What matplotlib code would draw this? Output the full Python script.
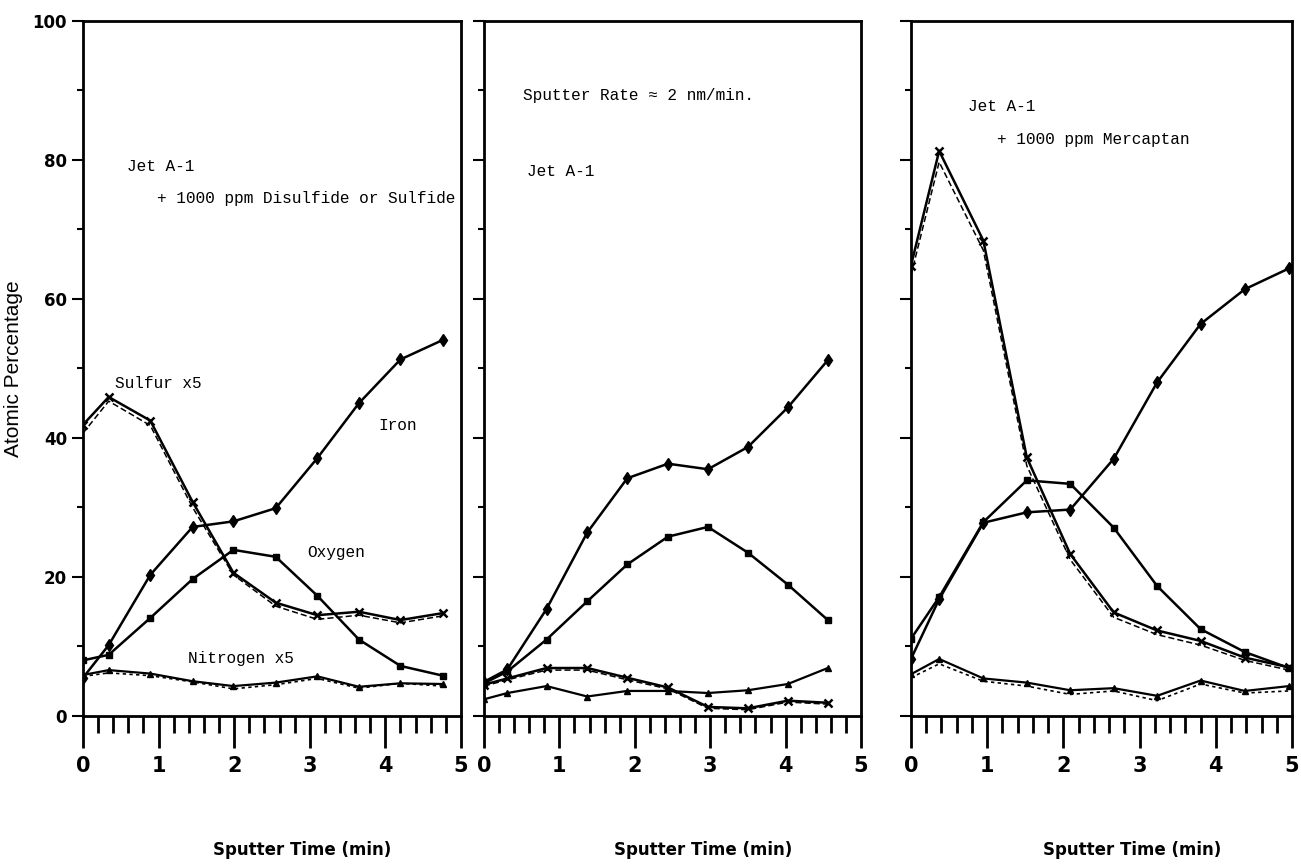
import matplotlib
matplotlib.use("Agg")
import matplotlib.pyplot as plt
import numpy as np
from matplotlib.ticker import MultipleLocator

# sputter time for each panel (min)
t1 = [0, 0.34, 0.89, 1.45, 1.99, 2.55, 3.10, 3.65, 4.20, 4.76]
t2 = [0, 0.31, 0.83, 1.37, 1.90, 2.44, 2.97, 3.50, 4.03, 4.56]
t3 = [0, 0.37, 0.95, 1.52, 2.09, 2.66, 3.23, 3.80, 4.38, 4.96]

# panel 1: Jet A-1 + disulfide or sulfide
iron1 = [5.5, 10.2, 20.3, 27.2, 28.0, 29.9, 37.1, 45.0, 51.3, 54.1]
oxy1 = [8.0, 8.8, 14.1, 19.7, 23.9, 22.9, 17.3, 11.0, 7.2, 5.8]
sulf1 = [41.9, 45.9, 42.5, 30.8, 20.6, 16.3, 14.5, 15.0, 13.8, 14.8]
sulf1b = [40.7, 45.3, 41.8, 30.0, 20.3, 15.8, 13.9, 14.5, 13.4, 14.4]
nit1 = [5.9, 6.6, 6.1, 5.0, 4.3, 4.8, 5.7, 4.2, 4.7, 4.6]
nit1b = [5.7, 6.2, 5.8, 4.9, 3.9, 4.5, 5.4, 4.0, 4.7, 4.3]

# panel 2: Jet A-1
iron2 = [4.9, 6.7, 15.4, 26.4, 34.2, 36.3, 35.5, 38.7, 44.4, 51.2]
oxy2 = [4.7, 6.4, 11.0, 16.5, 21.8, 25.8, 27.2, 23.5, 18.9, 13.8]
sulf2 = [4.5, 5.4, 6.9, 6.9, 5.5, 4.1, 1.3, 1.1, 2.2, 1.9]
sulf2b = [4.3, 5.2, 6.6, 6.6, 5.2, 3.9, 1.1, 0.9, 2.0, 1.7]
nit2 = [2.4, 3.3, 4.3, 2.8, 3.6, 3.6, 3.3, 3.7, 4.6, 6.9]

# panel 3: Jet A-1 + mercaptan
iron3 = [8.2, 16.8, 27.8, 29.3, 29.7, 37.0, 48.0, 56.4, 61.4, 64.4]
oxy3 = [11.1, 17.1, 27.9, 33.9, 33.4, 27.1, 18.7, 12.5, 9.2, 6.9]
sulf3 = [64.8, 81.3, 68.4, 37.2, 23.3, 14.9, 12.3, 10.8, 8.4, 7.0]
sulf3b = [63.4, 79.7, 67.0, 36.0, 22.5, 14.2, 11.7, 10.2, 8.0, 6.6]
nit3 = [6.0, 8.2, 5.4, 4.8, 3.7, 4.0, 2.9, 5.1, 3.6, 4.3]
nit3b = [5.5, 7.5, 5.0, 4.3, 3.1, 3.6, 2.2, 4.6, 3.3, 3.6]

tick_font = ['Liberation Sans Narrow', 'DejaVu Sans']
mono = ['Liberation Mono', 'DejaVu Sans Mono']

fig = plt.figure(figsize=(13.01, 8.67), dpi=100)
boxes = [[0.0638, 0.1742, 0.2905, 0.8016],
         [0.3720, 0.1742, 0.2898, 0.8016],
         [0.7002, 0.1742, 0.2929, 0.8016]]
axes = [fig.add_axes(b) for b in boxes]

panels = [
    (t1, iron1, oxy1, sulf1, sulf1b, nit1, nit1b),
    (t2, iron2, oxy2, sulf2, sulf2b, nit2, None),
    (t3, iron3, oxy3, sulf3, sulf3b, nit3, nit3b),
]

for i, (ax, p) in enumerate(zip(axes, panels)):
    t, fe, ox, s, sb, n, nb = p
    ax.plot(t, sb, color='k', lw=1.1, ls=(0, (4, 2)))
    if nb is not None:
        ax.plot(t, nb, color='k', lw=1.2, ls=(0, (2, 2)))
    ax.plot(t, fe, color='k', lw=1.8, marker='d', ms=6)
    ax.plot(t, ox, color='k', lw=1.8, marker='s', ms=4.5)
    ax.plot(t, s, color='k', lw=1.8, marker='x', ms=6, mew=1.8)
    ax.plot(t, n, color='k', lw=1.6, marker='^', ms=4.5)

    ax.set_xlim(0, 5)
    ax.set_ylim(0, 100)
    for sp in ax.spines.values():
        sp.set_linewidth(2)
    ax.xaxis.set_major_locator(MultipleLocator(1))
    ax.xaxis.set_minor_locator(MultipleLocator(0.2))
    ax.yaxis.set_major_locator(MultipleLocator(20))
    ax.yaxis.set_minor_locator(MultipleLocator(10))
    ax.tick_params(axis='x', which='major', direction='out', length=23, width=2, pad=6)
    ax.tick_params(axis='x', which='minor', direction='out', length=12, width=2)
    ax.tick_params(axis='y', which='major', direction='out', length=8, width=1.5)
    ax.tick_params(axis='y', which='minor', direction='out', length=4, width=1.5)
    ax.set_xticks(range(6))
    ax.set_xticklabels([str(k) for k in range(6)], family=tick_font,
                       fontweight='bold', fontsize=15)
    if i == 0:
        ax.set_yticks(range(0, 101, 20))
        ax.set_yticklabels([str(k) for k in range(0, 101, 20)], family=tick_font,
                           fontweight='bold', fontsize=12)
        ax.set_ylabel('Atomic Percentage', family=['Liberation Sans', 'DejaVu Sans'],
                      fontsize=15)
        ax.yaxis.set_label_coords(-0.16, 0.5)
    else:
        ax.set_yticklabels([])
    ax.set_xlabel('Sputter Time (min)', family=tick_font, fontweight='bold',
                  fontsize=12)
    ax.xaxis.set_label_coords(0.58, -0.18)

a1, a2, a3 = axes
txt = dict(family=mono, fontsize=11.6, va='center', ha='left')
a1.text(0.58, 79, 'Jet A-1', **txt)
a1.text(0.98, 74.5, '+ 1000 ppm Disulfide or Sulfide', **txt)
a1.text(0.42, 47.9, 'Sulfur x5', **txt)
a1.text(3.91, 41.8, 'Iron', **txt)
a1.text(2.97, 23.5, 'Oxygen', **txt)
a1.text(1.39, 8.3, 'Nitrogen x5', **txt)

a2.text(0.52, 89.3, 'Sputter Rate \u2248 2 nm/min.', **txt)
a2.text(0.57, 78.3, 'Jet A-1', **txt)

a3.text(0.75, 87.7, 'Jet A-1', **txt)
a3.text(1.13, 83.0, '+ 1000 ppm Mercaptan', **txt)

fig.savefig('out.png', dpi=100)
